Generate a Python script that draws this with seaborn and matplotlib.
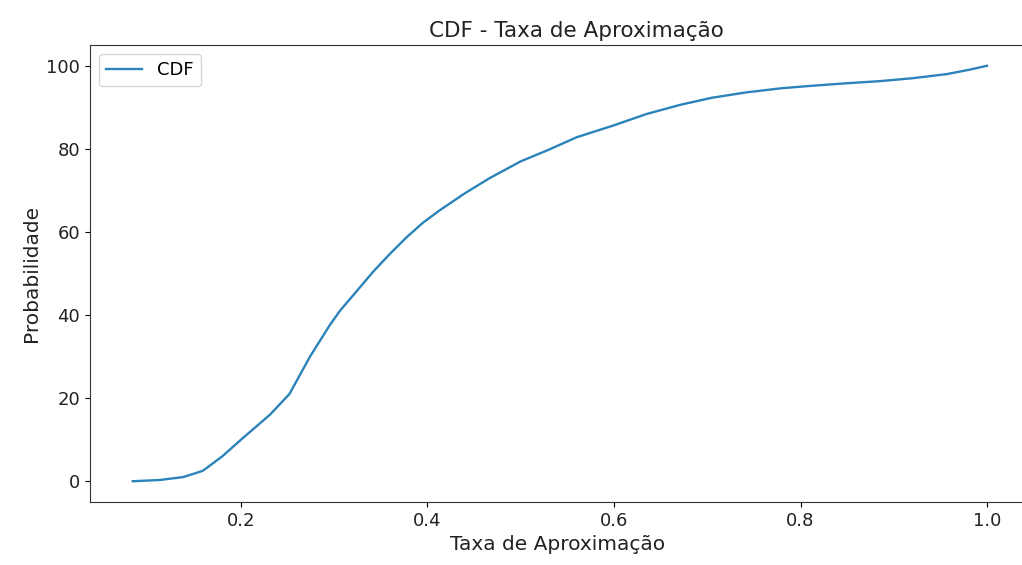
import numpy as np
import pandas as pd
import matplotlib
matplotlib.use("Agg")
import matplotlib.pyplot as plt
import seaborn as sns

# Valores (CDF da taxa de aproximação)
taxa = [0.084, 0.113, 0.138, 0.159, 0.18, 0.20, 0.231, 0.252, 0.274, 0.295,
        0.306, 0.325, 0.342, 0.36, 0.377, 0.395, 0.413, 0.44, 0.467, 0.50,
        0.528, 0.56, 0.599, 0.635, 0.671, 0.705, 0.742, 0.78, 0.813, 0.85,
        0.885, 0.92, 0.957, 0.98, 1.0]
probabilidade = [0.0, 0.3, 1.0, 2.5, 6.0, 10.0, 16.0, 21.0, 30.0, 37.5,
                 41.0, 46.0, 50.5, 54.8, 58.6, 62.2, 65.2, 69.3, 73.0, 77.0,
                 79.6, 82.8, 85.6, 88.4, 90.6, 92.3, 93.6, 94.6, 95.2, 95.8,
                 96.3, 97.0, 98.0, 99.0, 100.0]

df = pd.DataFrame({'Taxa': taxa, 'CDF': probabilidade})

fig = plt.figure(figsize=(10.22, 5.65), dpi=100)
ax = fig.add_axes([90 / 1022, 63 / 565, 935 / 1022, 457 / 565])
sns.lineplot(data=df, x='Taxa', y='CDF', ax=ax, label='CDF', color='#2b83ba', linewidth=1.7)

ax.set_xlim(0.0381, 1.0407)
ax.set_ylim(-5, 105)
for lado in ['top', 'left', 'bottom', 'right']:
    ax.spines[lado].set_visible(True)
    ax.spines[lado].set_color('#333333')

ax.set_title('CDF - Taxa de Aproximação', fontsize=15.5, color='#222222', x=0.52)
ax.set_xlabel('Taxa de Aproximação', fontsize=14.5, color='#222222')
ax.set_ylabel('Probabilidade', fontsize=14.5, color='#222222')
ax.tick_params(labelsize=13, labelcolor='#222222')
ax.set_xticks([0.2, 0.4, 0.6, 0.8, 1.0])
ax.set_yticks([0, 20, 40, 60, 80, 100])
ax.legend(loc='upper left', fontsize=13)

fig.savefig('out.png', dpi=100)
